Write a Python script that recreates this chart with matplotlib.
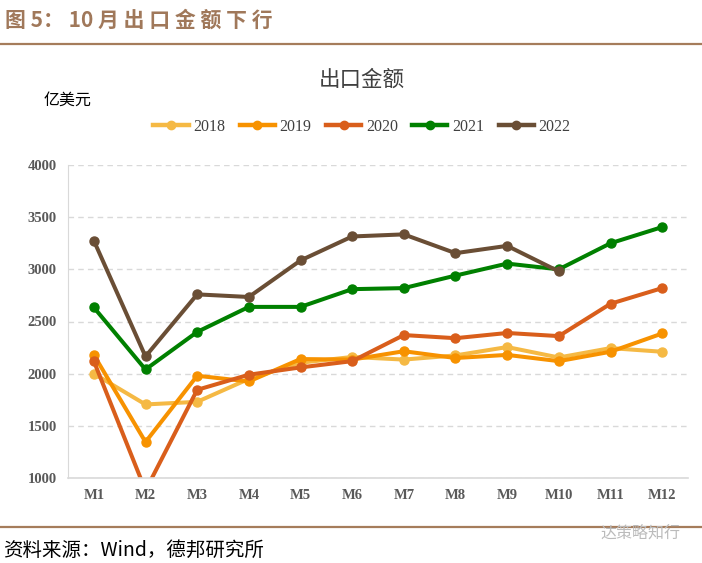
import matplotlib.pyplot as plt
from matplotlib.lines import Line2D

plt.rcParams['font.family'] = ['Liberation Serif', 'Noto Sans CJK SC', 'DejaVu Sans']

months = ['M1', 'M2', 'M3', 'M4', 'M5', 'M6', 'M7', 'M8', 'M9', 'M10', 'M11', 'M12']
y2018 = [2000, 1705, 1730, 1950, 2105, 2160, 2135, 2175, 2255, 2155, 2245, 2210]
y2019 = [2180, 1345, 1980, 1925, 2140, 2135, 2215, 2150, 2180, 2120, 2210, 2385]
y2020 = [2120, 880, 1845, 1990, 2060, 2120, 2370, 2340, 2390, 2360, 2670, 2820]
y2021 = [2635, 2040, 2400, 2640, 2640, 2810, 2820, 2940, 3055, 3000, 3250, 3405]
y2022 = [3275, 2165, 2760, 2735, 3085, 3315, 3335, 3155, 3225, 2980]

series = [('2018', y2018, '#F5B944'), ('2019', y2019, '#F79200'),
          ('2020', y2020, '#D95E1B'), ('2021', y2021, '#008000'),
          ('2022', y2022, '#6A4E35')]

fig = plt.figure(figsize=(7.02, 5.63), dpi=100)
ax = fig.add_axes([68 / 702, 1 - 478 / 563, 620 / 702, 313 / 563])

for name, vals, col in series:
    ax.plot(range(len(vals)), vals, color=col, lw=2.9, marker='o', ms=6.5,
            label=name, solid_capstyle='round')

ax.set_xlim(-0.5, 11.5)
ax.set_ylim(1000, 4000)
ax.set_yticks(range(1000, 4001, 500))
ax.set_xticks(range(12))
ax.set_xticklabels(months)
ax.tick_params(length=0, labelsize=10.5, colors='#595959', pad=8)
for lab in ax.get_xticklabels() + ax.get_yticklabels():
    lab.set_fontweight('bold')
ax.yaxis.grid(True, color='#D9D9D9', ls=(0, (4, 3)), lw=1)
ax.set_axisbelow(True)
for s in ['top', 'right']:
    ax.spines[s].set_visible(False)
ax.spines['left'].set_color('#D9D9D9')
ax.spines['bottom'].set_color('#D9D9D9')
ax.spines['bottom'].set_linewidth(1.2)

handles = [Line2D([0], [0], color=c, lw=3.2, marker='o', ms=6) for _, _, c in series]
fig.legend(handles, [n for n, _, _ in series], loc='center', ncol=5,
           bbox_to_anchor=(362 / 702, 1 - 127 / 563), frameon=False,
           prop={'size': 11.5}, handlelength=2.2,
           columnspacing=0.9, handletextpad=0.3, labelcolor='#404040')

fig.text(362 / 702, 1 - 80 / 563, '出口金额', ha='center', va='center',
         fontsize=15.5, color='#404040', family=['Noto Sans CJK SC'])
fig.text(44 / 702, 1 - 100 / 563, '亿美元', ha='left', va='center',
         fontsize=11.5, color='#000000', family=['Noto Sans CJK SC'])

# header
fig.text(5 / 702, 1 - 20 / 563, '图 5： 10 月 出 口 金 额 下 行', ha='left', va='center',
         fontsize=15, fontweight='bold', color='#A0785A',
         family=['Noto Sans CJK SC', 'DejaVu Sans'])
fig.add_artist(Line2D([0, 1], [1 - 44 / 563] * 2, color='#A57C5B', lw=1.6))
fig.add_artist(Line2D([0, 1], [1 - 527 / 563] * 2, color='#A57C5B', lw=1.6))
fig.text(3 / 702, 1 - 550 / 563, '资料来源：Wind，德邦研究所', ha='left', va='center',
         fontsize=14, color='#000000', family=['Noto Sans CJK SC', 'DejaVu Sans'])
fig.text(680 / 702, 1 - 533 / 563, '达策略知行', ha='right', va='center',
         fontsize=11.5, color='#BBBBBB', family=['Noto Sans CJK SC'])

fig.savefig('out.png', dpi=100, facecolor='white')
